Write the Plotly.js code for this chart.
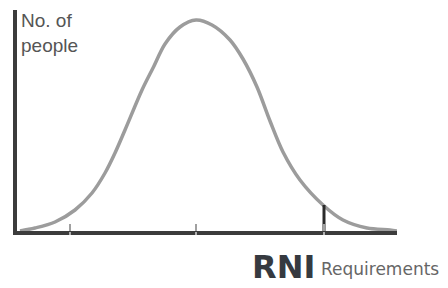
<!DOCTYPE html>
<html>
<head>
<meta charset="utf-8">
<script src="https://cdn.plot.ly/plotly-3.0.1.min.js"></script>
<style>html,body{margin:0;padding:0;background:#fff;}#chart{width:448px;height:288px;}</style>
</head>
<body>
<div id="chart"></div>
<script>
// Requirement level (horizontal position) and number of people (height)
const requirement = [20, 35, 55, 75, 92, 105, 115, 125, 142, 153, 165, 180, 196, 212, 230, 243, 257, 270, 283, 300, 323, 343, 367, 390, 397];
const people      = [0, 3, 9, 21, 38, 58, 78, 101, 141, 163, 187, 204, 211, 206, 191, 172, 144, 110, 79, 51, 26, 11, 3, 1, 0];
// Tick positions on the requirement axis (mean - 2SD, mean, mean + 2SD)
const tickPositions = [70, 196, 324];
// RNI marker
const rniRequirement = [324, 324];
const rniPeople = [0, 26];

const curve = {
  x: requirement, y: people, type: 'scatter', mode: 'lines',
  line: {color: '#9c9c9c', width: 3.5, shape: 'spline', smoothing: 0.9},
  hoverinfo: 'skip'
};
const rni = {
  x: rniRequirement, y: rniPeople, type: 'scatter', mode: 'lines',
  line: {color: '#2a2a2a', width: 3},
  hoverinfo: 'skip'
};
const ticksTrace = {x: [], y: [], xaxis: 'x2', yaxis: 'y', type: 'scatter', mode: 'lines', hoverinfo: 'skip'};

const layout = {
  width: 448, height: 288,
  margin: {l: 17, r: 51, t: 10, b: 57},
  paper_bgcolor: '#fff', plot_bgcolor: '#fff',
  showlegend: false,
  xaxis: {
    range: [17, 397], showgrid: false, zeroline: false,
    showline: true, linecolor: '#3c3c3c', linewidth: 4,
    tickvals: tickPositions, ticks: 'inside', ticklen: 7, tickwidth: 2, tickcolor: '#a0a0a0',
    showticklabels: false
  },
  xaxis2: {
    range: [17, 397], overlaying: 'x', anchor: 'y', showgrid: false, zeroline: false,
    showline: false, tickvals: tickPositions, ticks: 'outside', ticklen: 3, tickwidth: 2,
    tickcolor: '#b0b0b0', showticklabels: false
  },
  yaxis: {
    range: [0, 221], showgrid: false, zeroline: false,
    showline: true, linecolor: '#3c3c3c', linewidth: 4,
    ticks: '', showticklabels: false
  },
  annotations: [
    {xref: 'paper', yref: 'paper', x: 0.005, y: 1.01, xanchor: 'left', yanchor: 'top',
     text: 'No. of<br>people', showarrow: false, align: 'left',
     font: {family: 'Liberation Sans, Arial, sans-serif', size: 19, color: '#555'}},
    {xref: 'paper', yref: 'paper', x: 0.613, y: -0.258, xanchor: 'left', yanchor: 'bottom',
     text: '<b>RNI</b>', showarrow: false,
     font: {family: 'DejaVu Sans, sans-serif', size: 32, color: '#363a40'}},
    {xref: 'paper', yref: 'paper', x: 0.795, y: -0.228, xanchor: 'left', yanchor: 'bottom',
     text: 'Requirements', showarrow: false,
     font: {family: 'DejaVu Sans, sans-serif', size: 17, color: '#666'}}
  ]
};

Plotly.newPlot('chart', [curve, rni, ticksTrace], layout, {staticPlot: true, displayModeBar: false});
</script>
</body>
</html>
